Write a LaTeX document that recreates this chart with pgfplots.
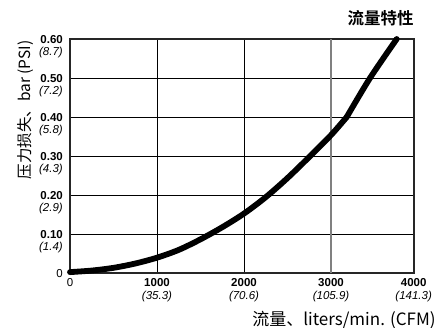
\documentclass[border=0pt]{standalone}
\usepackage{pgfplots}
\pgfplotsset{compat=1.18}
\usepackage{fontspec}
\setmainfont{Liberation Sans}
\newfontfamily\cjk{Noto Sans CJK SC}
\newfontfamily\cjkb{Noto Sans CJK SC Bold}
\newcommand\yl[2]{\begin{tabular}[t]{@{}r@{}}\textbf{#1}\\\textit{#2}\end{tabular}}
\newcommand\xl[2]{\begin{tabular}[t]{@{}c@{}}\textbf{#1}\\\textit{#2}\end{tabular}}
\begin{document}
\begin{tikzpicture}
\begin{axis}[
  scale only axis, width=343.7bp, height=234.3bp,
  xmin=0, xmax=3950, ymin=0, ymax=0.6,
  axis line style={line width=1.6bp, black!85},
  major tick length=0,
  xtick={0,1000,2000,3950},
  xticklabels={0, \xl{1000}{(35.3)}, \xl{2000}{(70.6)}, \xl{4000}{(141.3)}},
  extra x ticks={3000},
  extra x tick labels={\xl{3000}{(105.9)}},
  extra x tick style={grid style={line width=1.2bp, black!50}},
  ytick={0,0.1,0.2,0.3,0.4,0.5,0.6},
  yticklabels={0, \yl{0.10}{(1.4)}, \yl{0.20}{(2.9)}, \yl{0.30}{(4.3)}, \yl{0.40}{(5.8)}, \yl{0.50}{(7.2)}, \yl{0.60}{(8.7)}},
  xmajorgrids, ymajorgrids,
  grid style={line width=0.9bp, black},
  xticklabel style={font=\fontsize{11.5bp}{12.5bp}\selectfont, anchor=base, inner sep=0pt, yshift=-13.6bp},
  yticklabel style={font=\fontsize{11.5bp}{12.3bp}\selectfont, anchor=base east, inner sep=0pt, xshift=-7bp, yshift=-4.1bp},
  title={\cjkb 流量特性},
  title style={font=\fontsize{16.5bp}{18bp}\selectfont, anchor=base east, at={(rel axis cs:1,1)}, yshift=9bp, inner sep=0pt},
  xlabel={\cjk 流量、liters/min. (CFM)},
  xlabel style={font=\fontsize{17bp}{19bp}\selectfont, at={(axis description cs:0.797,0)}, anchor=base, yshift=-52.2bp, inner sep=0pt},
  ylabel={\cjk 压力损失、bar (PSI)},
  ylabel style={font=\fontsize{15.5bp}{17bp}\selectfont, at={(axis description cs:-0.1135,0.697)}, anchor=base, inner sep=0pt},
  clip=false,
]
\addplot[black, line width=5.8bp, smooth, tension=0.5, line cap=round, line join=round] coordinates {
 (0,0.003) (250,0.007) (500,0.014) (750,0.025) (1000,0.040) (1250,0.060)
 (1500,0.087) (1750,0.118) (2000,0.153) (2250,0.195) (2500,0.244)
 (2750,0.298) (3000,0.354) (3180,0.400)
};
\addplot[black, line width=5.8bp, smooth, tension=0.5, line cap=round, line join=round] coordinates {
 (3180,0.400) (3448,0.500) (3755,0.600)
};
\coordinate (sw) at (rel axis cs:0,0);
\coordinate (ne) at (rel axis cs:1,1);
\end{axis}
\pgfresetboundingbox
\path ([shift={(-70bp,-54.7bp)}]sw) rectangle ([shift={(22.3bp,39bp)}]ne);
\end{tikzpicture}
\end{document}
